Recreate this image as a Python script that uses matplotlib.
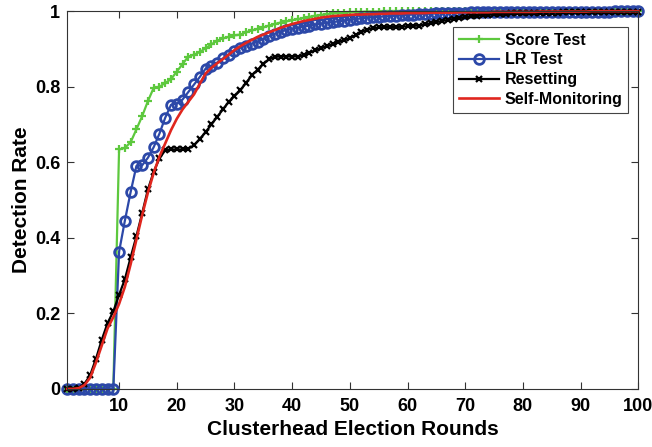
import numpy as np
import matplotlib.pyplot as plt

plt.rcParams['font.family'] = ['Liberation Sans', 'DejaVu Sans']
plt.rcParams['font.weight'] = 'bold'

# Election rounds
rounds = np.arange(1, 101)

# Detection rate per round
score_test = [0, 0, 0, 0, 0, 0, 0, 0, 0, 0.634,
              0.638, 0.653, 0.687, 0.722, 0.762, 0.797, 0.800, 0.810, 0.820, 0.840,
              0.860, 0.880, 0.885, 0.892, 0.902, 0.912, 0.922, 0.928, 0.932, 0.936,
              0.938, 0.944, 0.949, 0.953, 0.957, 0.962, 0.966, 0.970, 0.973, 0.976,
              0.979, 0.982, 0.985, 0.988, 0.990, 0.992, 0.994, 0.995, 0.996, 0.997,
              0.998, 0.998, 0.999, 0.999, 0.999, 1, 1, 1, 1, 1,
              1, 1, 1, 1, 1, 1, 1, 1, 1, 1,
              1, 1, 1, 1, 1, 1, 1, 1, 1, 1,
              1, 1, 1, 1, 1, 1, 1, 1, 1, 1,
              1, 1, 1, 1, 1, 1, 1, 1, 1, 1]

lr_test = [0, 0, 0, 0, 0, 0, 0, 0, 0, 0.363,
           0.445, 0.521, 0.590, 0.592, 0.612, 0.640, 0.676, 0.718, 0.752, 0.755,
           0.766, 0.786, 0.806, 0.826, 0.848, 0.855, 0.864, 0.875, 0.885, 0.895,
           0.903, 0.909, 0.914, 0.919, 0.927, 0.934, 0.940, 0.946, 0.950, 0.953,
           0.956, 0.959, 0.962, 0.965, 0.967, 0.969, 0.971, 0.973, 0.975, 0.977,
           0.979, 0.981, 0.983, 0.984, 0.985, 0.986, 0.987, 0.988, 0.989, 0.990,
           0.991, 0.992, 0.993, 0.993, 0.994, 0.994, 0.995, 0.995, 0.996, 0.996,
           0.997, 0.997, 0.997, 0.997, 0.997, 0.998, 0.998, 0.998, 0.998, 0.998,
           0.998, 0.998, 0.998, 0.998, 0.998, 0.999, 0.999, 0.999, 0.999, 0.999,
           0.999, 0.999, 0.999, 0.999, 0.999, 1, 1, 1, 1, 1]

resetting = [0, 0, 0.002, 0.013, 0.037, 0.080, 0.130, 0.174, 0.205, 0.249,
             0.290, 0.348, 0.404, 0.465, 0.528, 0.575, 0.610, 0.632, 0.634, 0.634,
             0.634, 0.636, 0.645, 0.662, 0.680, 0.700, 0.720, 0.740, 0.760, 0.775,
             0.790, 0.810, 0.830, 0.845, 0.860, 0.873, 0.879, 0.880, 0.880, 0.880,
             0.880, 0.884, 0.890, 0.896, 0.902, 0.907, 0.912, 0.918, 0.923, 0.928,
             0.937, 0.945, 0.951, 0.955, 0.957, 0.958, 0.958, 0.958, 0.959, 0.960,
             0.961, 0.962, 0.965, 0.968, 0.971, 0.974, 0.977, 0.979, 0.982, 0.984,
             0.986, 0.988, 0.990, 0.991, 0.992, 0.993, 0.993, 0.994, 0.994, 0.995,
             0.995, 0.995, 0.996, 0.996, 0.996, 0.996, 0.997, 0.997, 0.997, 0.997,
             0.997, 0.998, 0.998, 0.998, 0.998, 0.998, 0.999, 0.999, 0.999, 0.999]

self_monitoring = [0, 0, 0.002, 0.010, 0.030, 0.070, 0.115, 0.160, 0.190, 0.225,
                   0.270, 0.330, 0.395, 0.460, 0.520, 0.572, 0.615, 0.650, 0.685, 0.715,
                   0.740, 0.760, 0.780, 0.808, 0.835, 0.850, 0.862, 0.873, 0.885, 0.897,
                   0.907, 0.916, 0.924, 0.932, 0.938, 0.944, 0.950, 0.956, 0.961, 0.966,
                   0.970, 0.974, 0.977, 0.980, 0.983, 0.985, 0.987, 0.988, 0.989, 0.990,
                   0.991, 0.991, 0.992, 0.992, 0.993, 0.993, 0.994, 0.994, 0.994, 0.995,
                   0.995, 0.995, 0.995, 0.996, 0.996, 0.996, 0.996, 0.996, 0.997, 0.997,
                   0.997, 0.997, 0.997, 0.997, 0.998, 0.998, 0.998, 0.998, 0.998, 0.998,
                   0.998, 0.998, 0.999, 0.999, 0.999, 0.999, 0.999, 0.999, 0.999, 0.999,
                   0.999, 1, 1, 1, 1, 1, 1, 1, 1, 1]

fig = plt.figure(figsize=(6.52, 4.47), dpi=100)
ax = fig.add_axes([0.103, 0.130, 0.876, 0.845])

ax.plot(rounds, score_test, color='#5DC83E', lw=1.6, marker='+', ms=5.5, mew=1.6,
        label='Score Test', clip_on=False)
ax.plot(rounds, lr_test, color='#2C48A8', lw=1.6, marker='o', ms=7, mew=2, mfc='none',
        label='LR Test', clip_on=False)
ax.plot(rounds, resetting, color='black', lw=1.6, marker='x', ms=4, mew=1.6,
        label='Resetting', clip_on=False)
ax.plot(rounds, self_monitoring, color='#E0261E', lw=1.9, label='Self-Monitoring', clip_on=False)

ax.set_xlim(1, 100)
ax.set_ylim(0, 1)
ax.set_xticks(np.arange(10, 101, 10))
ax.set_yticks([0, 0.2, 0.4, 0.6, 0.8, 1])
ax.set_yticklabels(['0', '0.2', '0.4', '0.6', '0.8', '1'])
ax.tick_params(direction='in', top=True, right=True, length=5, width=0.8, labelsize=13, color='#333333')
ax.tick_params(axis='x', pad=6.5)
ax.tick_params(axis='y', pad=5)
for s in ax.spines.values():
    s.set_color('#333333')
    s.set_linewidth(0.8)

ax.set_xlabel('Clusterhead Election Rounds', fontsize=15, fontweight='bold', labelpad=4)
ax.set_ylabel('Detection Rate', fontsize=15, fontweight='bold', labelpad=3)

leg = ax.legend(loc='upper right', bbox_to_anchor=(0.982, 0.958), borderaxespad=0,
                fontsize=11.5, handlelength=2.5, fancybox=False, edgecolor='#444444',
                framealpha=1, borderpad=0.35, labelspacing=0.3, handletextpad=0.35)
leg.get_frame().set_linewidth(0.8)

fig.savefig('out.png', dpi=100)
